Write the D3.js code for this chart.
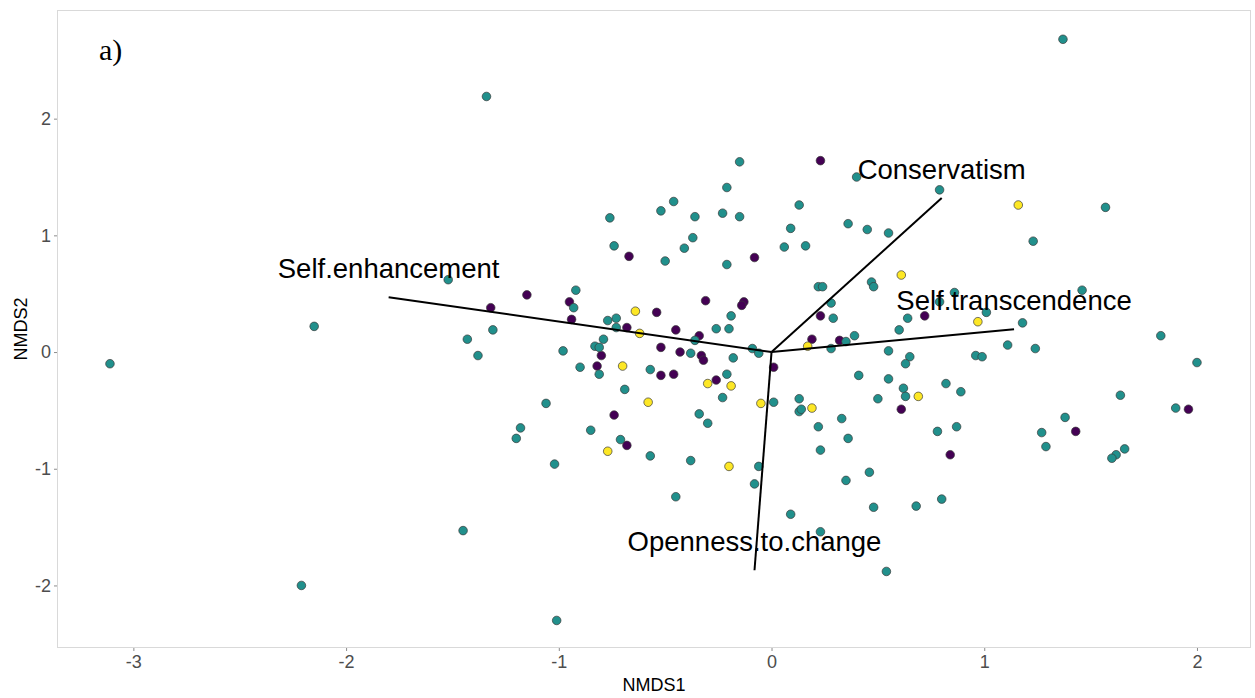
<!DOCTYPE html>
<html>
<head>
<meta charset="utf-8">
<script src="https://cdn.jsdelivr.net/npm/d3@7"></script>
<style>
  html, body { margin: 0; padding: 0; background: #fff; }
  svg { display: block; }
</style>
</head>
<body>
<svg id="chart" width="1255" height="698"></svg>
<script>
// ---- Data (NMDS scores) ----
const groupNames = ["purple", "teal", "yellow"];
const groupColors = ["#440154", "#21908C", "#FDE725"];

const purplePts = [
  [-0.67,0.82],[-0.08,0.81],[-1.15,0.49],[-0.95,0.43],[-1.32,0.38],[-0.94,0.28],
  [-0.54,0.34],[-0.31,0.44],[-0.13,0.43],[-0.14,0.40],[-0.68,0.21],[-0.45,0.19],
  [-0.34,0.14],[-0.52,0.04],[-0.43,0.00],[-0.33,-0.03],[-0.32,-0.07],[-0.80,-0.03],
  [-0.82,-0.12],[-0.52,-0.20],[-0.46,-0.19],[-0.26,-0.24],[0.01,-0.13],[0.19,0.11],
  [0.23,1.64],[0.23,0.31],[0.32,0.10],[0.72,0.31],[-0.74,-0.54],[-0.68,-0.80],
  [0.61,-0.49],[0.84,-0.88],[1.43,-0.68],[1.96,-0.49]
];

const tealPts = [
  [-3.11,-0.10],[-2.21,-2.00],[-2.15,0.22],[-1.34,2.19],[1.37,2.68],[-1.01,-2.30],
  [-1.45,-1.53],[0.54,-1.88],[-0.15,1.63],[-0.21,1.41],[-0.46,1.29],[-0.52,1.21],
  [-0.76,1.15],[-0.36,1.16],[-0.23,1.19],[-0.15,1.16],[0.13,1.26],[0.09,1.06],
  [-0.37,0.98],[-0.41,0.89],[-0.74,0.91],[0.06,0.90],[0.16,0.91],[-0.50,0.78],
  [-0.21,0.75],[-1.52,0.62],[-0.92,0.53],[-0.93,0.38],[-1.31,0.19],[-1.43,0.11],
  [-1.38,-0.03],[-0.98,0.01],[-0.19,0.31],[-0.77,0.27],[-0.73,0.29],[-0.73,0.21],
  [-0.26,0.20],[-0.20,0.20],[-0.79,0.11],[-0.83,0.05],[-0.81,0.04],[-0.36,0.10],
  [-0.38,-0.01],[-0.18,-0.05],[-0.09,0.03],[-0.06,-0.01],[0.22,0.56],[0.24,0.56],
  [-0.90,-0.13],[-0.57,-0.15],[-0.81,-0.19],[-0.21,-0.19],[-0.23,-0.39],[-0.69,-0.32],
  [-1.06,-0.44],[0.01,-0.43],[0.13,-0.40],[0.13,-0.51],[0.14,-0.49],[0.22,-0.64],
  [0.23,-0.84],[-0.34,-0.53],[-0.30,-0.61],[-1.18,-0.65],[-1.20,-0.74],[-0.85,-0.67],
  [-0.71,-0.75],[-0.57,-0.89],[-0.38,-0.93],[-1.02,-0.96],[-0.06,-0.98],[-0.08,-1.13],
  [-0.45,-1.24],[0.09,-1.39],[0.23,-1.54],[0.40,1.50],[0.79,1.39],[0.36,1.10],
  [0.45,1.05],[0.55,1.02],[0.47,0.60],[0.48,0.56],[0.86,0.51],[0.79,0.43],
  [0.28,0.42],[0.29,0.29],[0.64,0.29],[1.01,0.34],[0.60,0.19],[0.39,0.14],
  [0.35,0.09],[0.28,0.03],[0.55,0.01],[0.65,-0.04],[0.63,-0.10],[0.96,-0.03],
  [0.99,-0.04],[1.11,0.06],[1.18,0.25],[1.24,0.03],[1.83,0.14],[1.57,1.24],
  [1.23,0.95],[1.46,0.53],[2.00,-0.09],[1.64,-0.37],[1.90,-0.48],[1.38,-0.56],
  [1.27,-0.69],[1.29,-0.81],[1.66,-0.83],[1.62,-0.88],[1.60,-0.91],[0.41,-0.20],
  [0.55,-0.23],[0.62,-0.31],[0.63,-0.38],[0.50,-0.40],[0.82,-0.27],[0.89,-0.34],
  [0.33,-0.57],[0.36,-0.74],[0.78,-0.68],[0.87,-0.64],[0.46,-1.03],[0.35,-1.10],
  [0.48,-1.33],[0.68,-1.32],[0.80,-1.26]
];

const yellowPts = [
  [-0.64,0.35],[-0.62,0.16],[0.17,0.05],[-0.70,-0.12],[-0.30,-0.27],[-0.19,-0.29],
  [-0.58,-0.43],[-0.05,-0.44],[0.19,-0.48],[-0.77,-0.85],[-0.20,-0.98],[0.61,0.66],
  [0.97,0.26],[1.16,1.26],[0.69,-0.38]
];

// Fitted value vectors
const vecNames = ["Self.enhancement", "Conservatism", "Self.transcendence", "Openness.to.change"];
const vecX = [-1.80, 0.80, 1.14, -0.08];
const vecY = [0.47, 1.32, 0.195, -1.87];

const xTicks = [-3, -2, -1, 0, 1, 2];
const yTicks = [-2, -1, 0, 1, 2];
const xTitle = "NMDS1";
const yTitle = "NMDS2";
const panelTag = "a)";

// ---- Layout ----
const svg = d3.select("#chart");
const L = 57, R = 1251, T = 10, B = 648;

const x = d3.scaleLinear().domain([-3.359, 2.254]).range([L, R]);
const y = d3.scaleLinear().domain([-2.536, 2.931]).range([B, T]);

// Panel background + border
svg.append("rect")
  .attr("x", L + 0.5).attr("y", T + 0.5)
  .attr("width", R - L - 1).attr("height", B - T - 1)
  .attr("fill", "#fff").attr("stroke", "#d9d9d9").attr("stroke-width", 1);

// Axes
const xAxis = d3.axisBottom(x).tickValues(xTicks).tickFormat(d3.format("d"))
  .tickSizeInner(3).tickSizeOuter(0).tickPadding(4);
const yAxis = d3.axisLeft(y).tickValues(yTicks).tickFormat(d3.format("d"))
  .tickSizeInner(3).tickSizeOuter(0).tickPadding(3);

const gx = svg.append("g").attr("transform", `translate(0,${B})`).call(xAxis);
const gy = svg.append("g").attr("transform", `translate(${L},0)`).call(yAxis);
[gx, gy].forEach(g => {
  g.select(".domain").remove();
  g.selectAll(".tick line").attr("stroke", "#8c8c8c").attr("stroke-width", 1);
  g.selectAll(".tick text")
    .attr("fill", "#4d4d4d")
    .style("font-family", "'Liberation Sans', Arial, sans-serif")
    .style("font-size", "18px");
});
gx.selectAll(".tick text").text(d => d < 0 ? "-" + Math.abs(d) : String(d));
gy.selectAll(".tick text").text(d => d < 0 ? "-" + Math.abs(d) : String(d));

// Axis titles
svg.append("text")
  .attr("x", (L + R) / 2).attr("y", 691)
  .attr("text-anchor", "middle")
  .style("font-family", "'Liberation Sans', Arial, sans-serif")
  .style("font-size", "18px").attr("fill", "#000")
  .text(xTitle);
svg.append("text")
  .attr("transform", `translate(27,${(T + B) / 2}) rotate(-90)`)
  .attr("text-anchor", "middle")
  .style("font-family", "'Liberation Sans', Arial, sans-serif")
  .style("font-size", "18px").attr("fill", "#000")
  .text(yTitle);

// Points
const pts = svg.append("g");
const groups = [purplePts, tealPts, yellowPts];
groups.forEach((arr, gi) => {
  pts.selectAll(null).data(arr).enter().append("circle")
    .attr("cx", d => x(d[0])).attr("cy", d => y(d[1]))
    .attr("r", 4.3)
    .attr("fill", groupColors[gi])
    .attr("stroke", "#3a3a3a")
    .attr("stroke-width", 0.7);
});

// Vectors
const vecs = vecNames.map((n, i) => ({ name: n, vx: vecX[i], vy: vecY[i] }));
svg.append("g").selectAll("line").data(vecs).enter().append("line")
  .attr("x1", x(0)).attr("y1", y(0))
  .attr("x2", d => x(d.vx)).attr("y2", d => y(d.vy))
  .attr("stroke", "#000").attr("stroke-width", 2);

svg.append("g").selectAll("text").data(vecs).enter().append("text")
  .attr("x", d => x(d.vx)).attr("y", d => y(d.vy) - 19.5)
  .attr("text-anchor", "middle")
  .style("font-family", "'Liberation Sans', Arial, sans-serif")
  .style("font-size", "27.5px").attr("fill", "#000")
  .text(d => d.name);

// Panel tag
svg.append("text")
  .attr("x", 99).attr("y", 59.5)
  .style("font-family", "'Liberation Serif', 'Times New Roman', serif")
  .style("font-size", "30px").attr("fill", "#000")
  .text(panelTag);
</script>
</body>
</html>
